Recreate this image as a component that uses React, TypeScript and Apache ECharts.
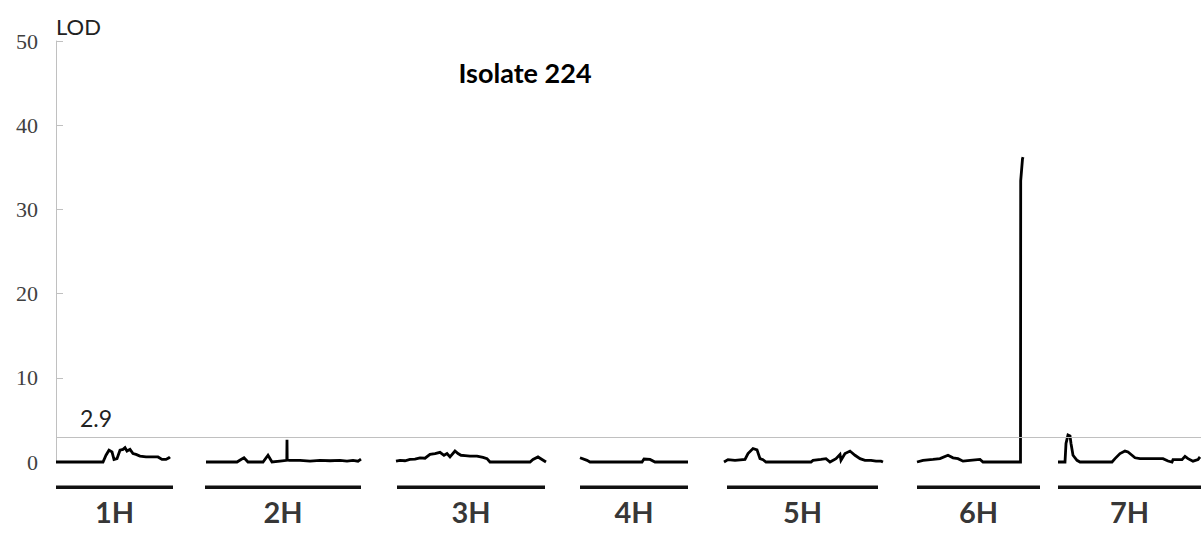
import React, { useEffect, useRef } from "react";
import * as echarts from "echarts";

// Chromosome layout (axis units, left edge of axis = 0)
const chromosomes = ["1H", "2H", "3H", "4H", "5H", "6H", "7H"];
const chromStart = [0, 149, 341, 524, 671, 861, 1002];
const chromLength = [117, 156, 148, 108, 151, 123, 143];

const threshold = 2.9;
const yMin = 0;
const yMax = 50;
const yInterval = 10;
const xMax = 1145;

// LOD profiles: positions relative to chromosome start, and LOD values
const pos1H = [0, 47, 50, 53, 56, 58, 61, 64, 67, 69, 71, 74, 77, 80, 84, 90, 96, 102, 106, 110, 113, 114];
const lod1H = [0, 0, 0.8, 1.4, 1.2, 0.3, 0.4, 1.4, 1.5, 1.7, 1.3, 1.5, 1.0, 0.9, 0.7, 0.6, 0.6, 0.6, 0.3, 0.3, 0.5, 0.6];

const pos2H = [1, 32, 36, 39, 43, 58, 63, 67, 75, 81.8, 82, 82.2, 84, 95, 105, 115, 125, 135, 142, 148, 153, 156];
const lod2H = [0, 0, 0.3, 0.5, 0, 0, 0.8, 0, 0.1, 0.2, 2.65, 0.3, 0.2, 0.2, 0.1, 0.2, 0.15, 0.2, 0.1, 0.2, 0.1, 0.35];

const pos3H = [-1, 3, 8, 13, 18, 23, 28, 33, 38, 43, 47, 50, 53, 58, 61, 64, 68, 73, 80, 86, 90, 93, 133, 136, 141, 145, 149];
const lod3H = [0.1, 0.2, 0.15, 0.3, 0.35, 0.5, 0.45, 0.9, 1.0, 1.15, 0.8, 1.0, 0.6, 1.3, 1.0, 0.8, 0.75, 0.7, 0.7, 0.55, 0.4, 0, 0, 0.3, 0.6, 0.3, 0];

const pos4H = [0, 7, 10, 62, 64, 70, 75, 108];
const lod4H = [0.5, 0.2, 0, 0, 0.35, 0.3, 0, 0];

const pos5H = [-3, 1, 8, 18, 21, 26, 30, 33, 36, 39, 84, 86, 94, 99, 103, 109, 113, 114, 118, 123, 128, 133, 138, 144, 149, 154, 156];
const lod5H = [0, 0.28, 0.2, 0.3, 1.0, 1.6, 1.45, 0.4, 0.28, 0, 0, 0.2, 0.3, 0.4, 0, 0.4, 0.9, 0.2, 1.0, 1.3, 0.8, 0.4, 0.2, 0.2, 0.1, 0.1, 0];

const pos6H = [0, 6, 16, 23, 31, 36, 41, 46, 53, 63, 66, 103.5, 103.7, 105.5, 106];
const lod6H = [0, 0.2, 0.3, 0.4, 0.8, 0.5, 0.4, 0.1, 0.2, 0.3, 0, 0, 33.4, 36.0, 36.2];

const pos7H = [0, 7, 8, 10, 12, 13, 15, 19, 22, 54, 57, 62, 67, 70, 74, 77, 82, 105, 110, 114, 115, 124, 127, 130, 135, 140, 142];
const lod7H = [0, 0, 2.2, 3.2, 3.1, 2.2, 0.8, 0.2, 0, 0, 0.4, 1.0, 1.3, 1.2, 0.8, 0.5, 0.4, 0.4, 0.12, 0, 0.28, 0.28, 0.67, 0.4, 0.1, 0.28, 0.6];

const positions = [pos1H, pos2H, pos3H, pos4H, pos5H, pos6H, pos7H];
const lods = [lod1H, lod2H, lod3H, lod4H, lod5H, lod6H, lod7H];

const BAR_LEVEL = -3;
const LABEL_LEVEL = -5.9;

export default function App() {
  const ref = useRef<HTMLDivElement>(null);

  useEffect(() => {
    if (!ref.current) return;
    const chart = echarts.init(ref.current, undefined, { renderer: "svg" });

    const profileSeries = chromosomes.map((name, i) => ({
      name,
      type: "line",
      data: positions[i].map((p, j) => [chromStart[i] + p, lods[i][j]]),
      symbol: "none",
      clip: false,
      z: 3,
      lineStyle: { color: "#000", width: 2.8, join: "miter" },
      silent: true,
    }));

    const barSeries = chromosomes.map((name, i) => ({
      name: name + "-bar",
      type: "line",
      data: [
        [chromStart[i], BAR_LEVEL],
        [chromStart[i] + chromLength[i], BAR_LEVEL],
      ],
      symbol: "none",
      clip: false,
      z: 3,
      lineStyle: { color: "#111", width: 3.5, cap: "butt" },
      silent: true,
    }));

    const labelSeries = {
      type: "scatter",
      symbolSize: 0,
      clip: false,
      silent: true,
      data: chromosomes.map((name, i) => ({
        name,
        value: [chromStart[i] + chromLength[i] / 2, LABEL_LEVEL],
      })),
      label: {
        show: true,
        position: "inside",
        formatter: "{b}",
        fontFamily: "Lato",
        fontWeight: "bold",
        fontSize: 29,
        color: "#000",
      },
    };

    const thresholdSeries = {
      type: "line",
      data: [],
      z: 1,
      silent: true,
      markLine: {
        silent: true,
        symbol: "none",
        data: [{ yAxis: threshold }],
        lineStyle: { color: "#c0c0c0", width: 1, type: "solid" },
        label: {
          show: true,
          position: "insideStartTop",
          formatter: String(threshold),
          distance: [24, 8],
          fontFamily: "Lato",
          fontSize: 23,
          color: "#222",
        },
      },
    };

    chart.setOption({
      animation: false,
      grid: { left: 56, right: 0, top: 41, bottom: 74, containLabel: false },
      xAxis: { type: "value", min: 0, max: xMax, show: false },
      yAxis: {
        type: "value",
        min: yMin,
        max: yMax,
        interval: yInterval,
        name: "LOD",
        nameLocation: "end",
        nameGap: 15,
        nameTextStyle: {
          fontFamily: "Lato",
          fontSize: 22,
          color: "#222",
          align: "left",
          verticalAlign: "middle",
        },
        axisLine: { show: true, lineStyle: { color: "#c0c0c0", width: 1 } },
        axisTick: { show: true, inside: true, length: 7, lineStyle: { color: "#c0c0c0" } },
        axisLabel: {
          fontFamily: "Liberation Serif",
          fontSize: 22,
          color: "#404040",
          margin: 18,
        },
        splitLine: { show: false },
      },
      graphic: [
        {
          type: "text",
          x: 525,
          y: 72,
          style: {
            text: "Isolate 224",
            fontFamily: "Lato",
            fontWeight: "bold",
            fontSize: 27,
            fill: "#000",
            align: "center",
            verticalAlign: "middle",
          },
        },
      ],
      series: [thresholdSeries, ...profileSeries, ...barSeries, labelSeries],
    });

    return () => chart.dispose();
  }, []);

  return (
    <div
      ref={ref}
      style={{ position: "fixed", left: 0, top: 0, width: 1201, height: 536, background: "#fff" }}
    />
  );
}
